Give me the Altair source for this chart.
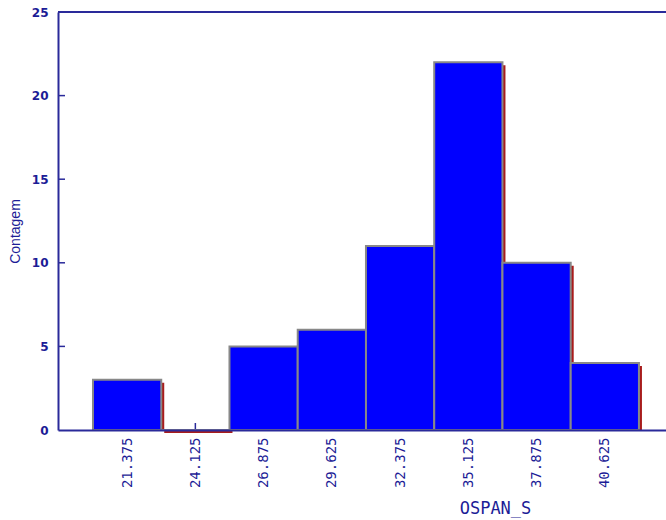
import altair as alt
import pandas as pd

# Histogram of OSPAN_S: bin centres and their counts
bin_centers = [21.375, 24.125, 26.875, 29.625, 32.375, 35.125, 37.875, 40.625]
counts = [3, 0, 5, 6, 11, 22, 10, 4]
bin_width = 2.75
y_ticks = [5, 10, 15, 20, 25]

NAVY = "#2a2a9a"
TEXT = "#1c1c96"
W, H = 608, 418

bars = pd.DataFrame({"center": bin_centers, "count": counts})
bars["start"] = bars["center"] - bin_width / 2
bars["end"] = bars["center"] + bin_width / 2
ticks = pd.DataFrame({"v": y_ticks})

x_scale = alt.Scale(domain=[18.59, 43.09], nice=False, zero=False)
y_scale = alt.Scale(domain=[0, 25], nice=False)

x_axis = alt.Axis(
    values=bin_centers, format=".3f", labelAngle=270, ticks=False, grid=False,
    domainColor=NAVY, domainWidth=2, labelColor=TEXT, labelFont="DejaVu Sans Mono",
    labelFontSize=14, labelPadding=7, title="OSPAN_S", titleColor=TEXT,
    titleFont="DejaVu Sans Mono", titleFontSize=17, titleFontWeight="normal",
    titleX=437, titleY=78, titleAlign="center", titleBaseline="middle", zindex=1,
)
y_axis = alt.Axis(
    values=[0, 5, 10, 15, 20, 25], ticks=False, grid=False, domainColor=NAVY,
    domainWidth=2, labelColor=TEXT, labelFont="DejaVu Sans", labelFontWeight="bold",
    labelFontSize=12, labelPadding=10, title="Contagem", titleColor=TEXT,
    titleFont="Liberation Sans", titleFontSize=14, titleFontWeight="normal",
    titleLimit=200, titleX=-43, titleY=219, titleAlign="center",
    titleBaseline="middle", zindex=1,
)

base = alt.Chart(bars)

# small upward ticks on the x axis (visible where a bin is empty)
x_ticks = base.mark_rule(color=NAVY, strokeWidth=1.5).encode(
    x=alt.X("center:Q", scale=x_scale, axis=x_axis),
    y=alt.value(H),
    y2=alt.value(H - 7),
)

# dark red drop shadow on the right/bottom of each bar
shadow = base.mark_rect(color="#a81c1c", xOffset=3, x2Offset=3, yOffset=3, y2Offset=1).encode(
    x=alt.X("start:Q", scale=x_scale),
    x2="end:Q",
    y=alt.Y("count:Q", scale=y_scale, axis=y_axis),
    y2=alt.datum(0),
)

rects = base.mark_rect(color="#0000ff", stroke="#888888", strokeWidth=2).encode(
    x=alt.X("start:Q", scale=x_scale),
    x2="end:Q",
    y=alt.Y("count:Q", scale=y_scale),
    y2=alt.datum(0),
)

# inward ticks on the y axis
y_tick_marks = alt.Chart(ticks).mark_rule(color=NAVY, strokeWidth=1.5).encode(
    y=alt.Y("v:Q", scale=y_scale),
    x=alt.value(0),
    x2=alt.value(7),
)

# top frame line
top_line = alt.Chart(ticks).mark_rule(color=NAVY, strokeWidth=2).encode(
    y=alt.datum(25),
    x=alt.value(0),
    x2=alt.value(W),
)

chart = (
    alt.layer(x_ticks, shadow, rects, y_tick_marks, top_line)
    .properties(
        width=W,
        height=H,
        autosize=alt.AutoSizeParams(type="none"),
        padding={"left": 58, "top": 12, "right": 0, "bottom": 90},
        background="white",
    )
    .configure_view(stroke=None)
)

chart.save("out.html", embed_options={"renderer": "svg", "actions": False})
